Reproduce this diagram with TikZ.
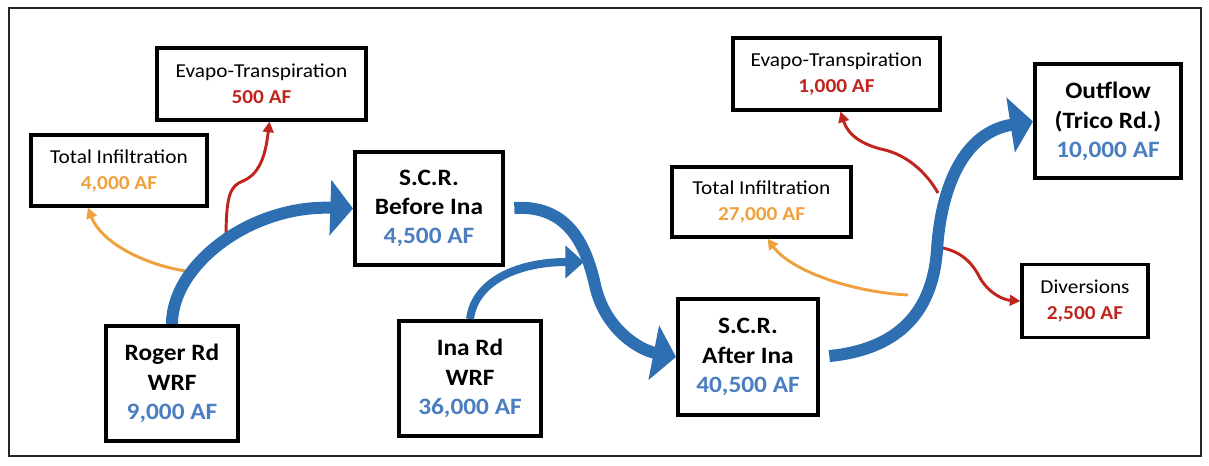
\documentclass[tikz,border=0pt]{standalone}
\usepackage{fontspec}
\setmainfont{Carlito}[FakeStretch=1.08]
\usepackage{tikz}
\usetikzlibrary{arrows.meta,calc}

\definecolor{flowblue}{RGB}{46,111,178}
\definecolor{numblue}{RGB}{74,126,192}
\definecolor{lossred}{RGB}{192,36,30}
\definecolor{infilorange}{RGB}{240,160,60}

\tikzset{
  bigbox/.style={draw, line width=3pt, align=center, inner sep=0pt,
    font=\bfseries\fontsize{17.6}{22}\selectfont},
  smallbox/.style={draw, line width=2.4pt, align=center, inner sep=0pt,
    font=\fontsize{14.8}{19.5}\selectfont},
  boxsize/.style 2 args={minimum width=#1*0.75pt, minimum height=#2*0.75pt},
  flow/.style={flowblue, line width=9pt, -{Triangle[length=17pt,width=41pt]}},
  sideflow/.style={flowblue, line width=6pt, -{Triangle[length=14pt,width=24pt]}},
  loss/.style={lossred, line width=2.2pt, -{Triangle[length=8pt,width=8pt]}},
  infil/.style={infilorange, line width=2.2pt, -{Triangle[length=8pt,width=8pt]}}
}

\begin{document}
\begin{tikzpicture}[x=0.75pt, y=-0.75pt]
  \useasboundingbox (0,0) rectangle (1209,466);
  \draw[black!85, line width=2pt] (9,8) rectangle (1201,456);

  % main reach
  \node[bigbox, boxsize={132}{115}] (rogerrd) at (172,383.5) {Roger Rd\\WRF\\\textcolor{numblue}{9,000 AF}};
  \node[bigbox, boxsize={148}{113}] (before) at (429,208.5) {S.C.R.\\Before Ina\\\textcolor{numblue}{4,500 AF}};
  \node[bigbox, boxsize={142}{115}] (inard) at (470,378.5) {Ina Rd\\WRF\\\textcolor{numblue}{36,000 AF}};
  \node[bigbox, boxsize={140}{116}] (after) at (748,357) {S.C.R.\\After Ina\\\textcolor{numblue}{40,500 AF}};
  \node[bigbox, boxsize={146}{114}] (outflow) at (1108,121.5) {Outflow\\(Trico Rd.)\\\textcolor{numblue}{10,000 AF}};

  % losses
  \node[smallbox, boxsize={209}{72}] (etl) at (261.5,84) {Evapo-Transpiration\\\textbf{\textcolor{lossred}{500 AF}}};
  \node[smallbox, boxsize={176}{71}] (infl) at (119,170.5) {Total Infiltration\\\textbf{\textcolor{infilorange}{4,000 AF}}};
  \node[smallbox, boxsize={207}{72}] (etr) at (836.5,74) {Evapo-Transpiration\\\textbf{\textcolor{lossred}{1,000 AF}}};
  \node[smallbox, boxsize={179}{70}] (infr) at (761.5,202) {Total Infiltration\\\textbf{\textcolor{infilorange}{27,000 AF}}};
  \node[smallbox, boxsize={126}{73}] (divers) at (1085,301) {Diversions\\\textbf{\textcolor{lossred}{2,500 AF}}};

  % branch points
  \coordinate (jinfl) at (192,272);
  \coordinate (jetl) at (226,240);
  \coordinate (jmerge) at (584,262);
  \coordinate (jinfr) at (908,295);
  \coordinate (jdiv) at (937,247);
  \coordinate (jetr) at (938,193);

  \draw[infil] (jinfl) .. controls (140,265) and (100,240) .. ($(infl.south)+(-31,0)$);
  \draw[loss] (jetl) .. controls (226,195) and (230,186) .. (243,181)
    .. controls (262,173) and (266,150) .. ($(etl.south)+(8,0)$);
  \draw[infil] (jinfr) .. controls (850,292) and (790,270) .. ($(infr.south)+(6,0)$);
  \draw[loss] (jetr) .. controls (925,170) and (905,155) .. (885,150)
    .. controls (862,145) and (848,135) .. ($(etr.south)+(4,0)$);
  \draw[loss] (jdiv) .. controls (960,250) and (972,262) .. (980,278)
    .. controls (990,295) and (1005,300) .. (divers.west);

  \draw[flow] (rogerrd.north) .. controls (172,265) and (250,205) .. (before.west);
  \draw[sideflow] (inard.north) .. controls (475,280) and (520,262) .. (jmerge);
  \draw[flow, shorten <=7pt] (before.east) .. controls (565,205) and (585,240) .. (595,285)
    .. controls (605,330) and (640,350) .. (after.west);
  \draw[flow, shorten <=7pt] (after.east) .. controls (890,350) and (932,320) .. (937,250)
    .. controls (941,185) and (965,132) .. (outflow.west);
\end{tikzpicture}
\end{document}
